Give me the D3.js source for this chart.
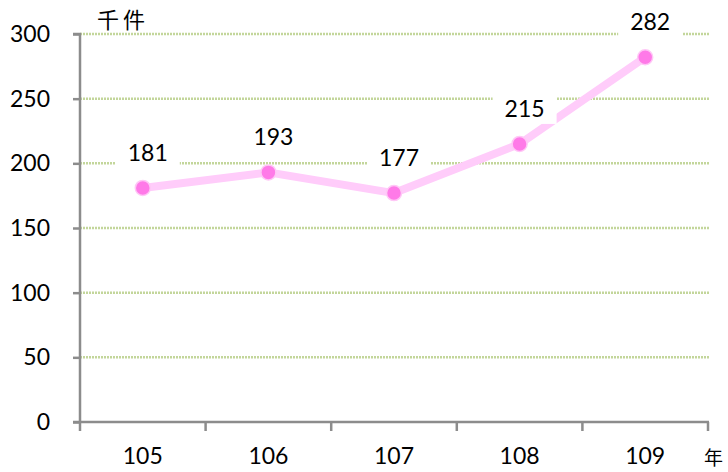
<!DOCTYPE html>
<html>
<head>
<meta charset="utf-8">
<script src="https://cdn.jsdelivr.net/npm/d3@7"></script>
<style>
  body { margin: 0; background: #fff; }
  text { font-family: Lato, "Open Sans", sans-serif; }
</style>
</head>
<body>
<div id="chart"></div>
<script>
// data
var years = ["105", "106", "107", "108", "109"];
var counts = [181, 193, 177, 215, 282];
var yTicks = [0, 50, 100, 150, 200, 250, 300];

var width = 728, height = 472;

var svg = d3.select("#chart").append("svg")
    .attr("width", width)
    .attr("height", height);

var x = d3.scaleBand()
    .domain(years)
    .range([80, 708]);

var y = d3.scaleLinear()
    .domain([0, 300])
    .range([422, 34]);

// gridlines (dotted green)
svg.append("g").selectAll("line")
    .data(yTicks.filter(function (d) { return d > 0; }))
    .enter().append("line")
    .attr("x1", 80)
    .attr("x2", 709)
    .attr("y1", function (d) { return y(d); })
    .attr("y2", function (d) { return y(d); })
    .style("stroke", "#c3d69b")
    .style("stroke-width", 2.5)
    .style("stroke-dasharray", "2,1");

// y axis
var yAxis = svg.append("g")
    .attr("transform", "translate(80,0)")
    .call(d3.axisLeft(y).tickValues(yTicks).tickSize(7).tickPadding(23));
yAxis.selectAll("path, line").style("stroke", "#8c8c8c").style("stroke-width", 2.5);
yAxis.select(".domain").attr("d", "M-7," + y(300) + "H0V" + y(0));
yAxis.selectAll("text")
    .style("font-size", "23px")
    .style("fill", "#000");

// x axis - ticks between categories
var xAxis = svg.append("g")
    .attr("transform", "translate(0,422)");
xAxis.append("line")
    .attr("x1", 73).attr("x2", 709)
    .style("stroke", "#8c8c8c").style("stroke-width", 2.5);
var bounds = years.map(function (d) { return x(d); }).concat([x(years[years.length - 1]) + x.bandwidth()]);
xAxis.selectAll(".tk")
    .data(bounds)
    .enter().append("line")
    .attr("class", "tk")
    .attr("x1", function (d) { return d; })
    .attr("x2", function (d) { return d; })
    .attr("y1", 0).attr("y2", 9)
    .style("stroke", "#8c8c8c").style("stroke-width", 2.5);
xAxis.selectAll(".lbl")
    .data(years)
    .enter().append("text")
    .attr("class", "lbl")
    .attr("x", function (d) { return x(d) + x.bandwidth() / 2; })
    .attr("y", 42)
    .attr("text-anchor", "middle")
    .style("font-size", "23px")
    .text(function (d) { return d; });

// unit labels
svg.append("text")
    .attr("x", 97).attr("y", 28)
    .style("font-size", "22px")
    .style("font-family", "'Noto Sans CJK TC', sans-serif")
    .style("letter-spacing", "4px")
    .text("千件");
svg.append("text")
    .attr("x", 704).attr("y", 465)
    .style("font-size", "19px")
    .style("font-family", "'Noto Sans CJK TC', sans-serif")
    .text("年");

var cx = function (d, i) { return x(years[i]) + x.bandwidth() / 2; };

// line
var line = d3.line()
    .x(function (d, i) { return cx(d, i); })
    .y(function (d) { return y(d); });

svg.append("path")
    .datum(counts)
    .attr("d", line)
    .style("fill", "none")
    .style("stroke", "#ffccfa")
    .style("stroke-width", 8)
    .style("stroke-linejoin", "round");

// markers
svg.append("g").selectAll("circle")
    .data(counts)
    .enter().append("circle")
    .attr("cx", cx)
    .attr("cy", function (d) { return y(d); })
    .attr("r", 7.5)
    .style("fill", "#ff7ae8")
    .style("stroke", "#ffc8f6")
    .style("stroke-width", 1.5);

// data labels with white background
var lbl = svg.append("g").selectAll("g")
    .data(counts)
    .enter().append("g")
    .attr("transform", function (d, i) {
        return "translate(" + (cx(d, i) + 5) + "," + (y(d) - 35) + ")";
    });
lbl.append("rect")
    .attr("x", -32).attr("y", -15)
    .attr("width", 64).attr("height", 30)
    .style("fill", "#fff");
lbl.append("text")
    .attr("text-anchor", "middle")
    .attr("dy", "0.35em")
    .style("font-size", "23px")
    .text(function (d) { return d; });
</script>
</body>
</html>
